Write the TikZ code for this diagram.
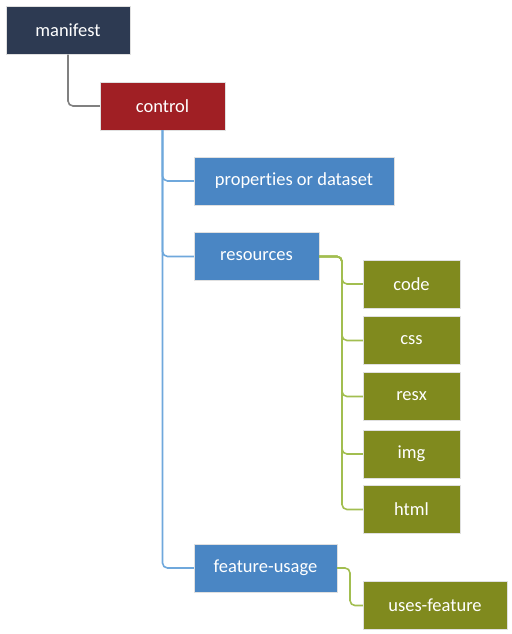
\documentclass[tikz,border=0pt]{standalone}
\usepackage{fontspec}
\setmainfont{Carlito}[Ligatures=NoCommon]
\definecolor{navybox}{HTML}{2D3A52}
\definecolor{redbox}{HTML}{A01F24}
\definecolor{bluebox}{HTML}{4A86C4}
\definecolor{olivebox}{HTML}{808A1E}
\definecolor{grayline}{HTML}{808080}
\definecolor{blueline}{HTML}{6FA8DC}
\definecolor{greenline}{HTML}{A2BE50}
\tikzset{
	box/.style={draw=white!88!black, line width=.3pt, text=white, font=\fontsize{18.5}{22}\selectfont, minimum height=48pt, inner sep=0pt},
	navy/.style={box, fill=navybox},
	red/.style={box, fill=redbox},
	blue/.style={box, fill=bluebox},
	olive/.style={box, fill=olivebox},
	link/.style={line width=1.6pt, rounded corners=5pt}
}
\begin{document}
\begin{tikzpicture}[x=1pt, y=-1pt]
		\useasboundingbox (0,0) rectangle (511,634);
		\node[navy, minimum width=124pt] (manifest) at (68,30.5) {manifest};
		\node[red, minimum width=125pt] (control) at (162.5,106) {control};
	
		\node[blue, minimum width=200pt] (props) at (294,181) {properties or dataset};
		\node[blue, minimum width=125pt] (res) at (256.5,256.5) {resources};
		\node[blue, minimum width=143pt] (feat) at (265.5,568) {feature-usage};
	
		\node[olive, minimum width=97pt] (code) at (411.5,284) {code};
		\node[olive, minimum width=97pt] (css) at (411.5,340.5) {css};
		\node[olive, minimum width=97pt] (resx) at (411.5,396.5) {resx};
		\node[olive, minimum width=97pt] (img) at (411.5,454) {img};
		\node[olive, minimum width=97pt] (html) at (411.5,509.5) {html};
		\node[olive, minimum width=144pt] (uses) at (435,605.5) {uses-feature};
	
		\coordinate (rbus) at (342,256.5);
		\coordinate (fbus) at (350,568);
	
		\draw[link, grayline] (manifest.south) |- (control.west);
	
		\draw[link, blueline] (control.south) |- (props.west);
		\draw[link, blueline] (control.south) |- (res.west);
		\draw[link, blueline] (control.south) |- (feat.west);
	
		\draw[link, greenline] (res.east) -- (rbus) |- (code.west);
		\draw[link, greenline] (res.east) -- (rbus) |- (css.west);
		\draw[link, greenline] (res.east) -- (rbus) |- (resx.west);
		\draw[link, greenline] (res.east) -- (rbus) |- (img.west);
		\draw[link, greenline] (res.east) -- (rbus) |- (html.west);
	
		\draw[link, greenline] (feat.east) -- (fbus) |- (uses.west);
	\end{tikzpicture}
\end{document}
